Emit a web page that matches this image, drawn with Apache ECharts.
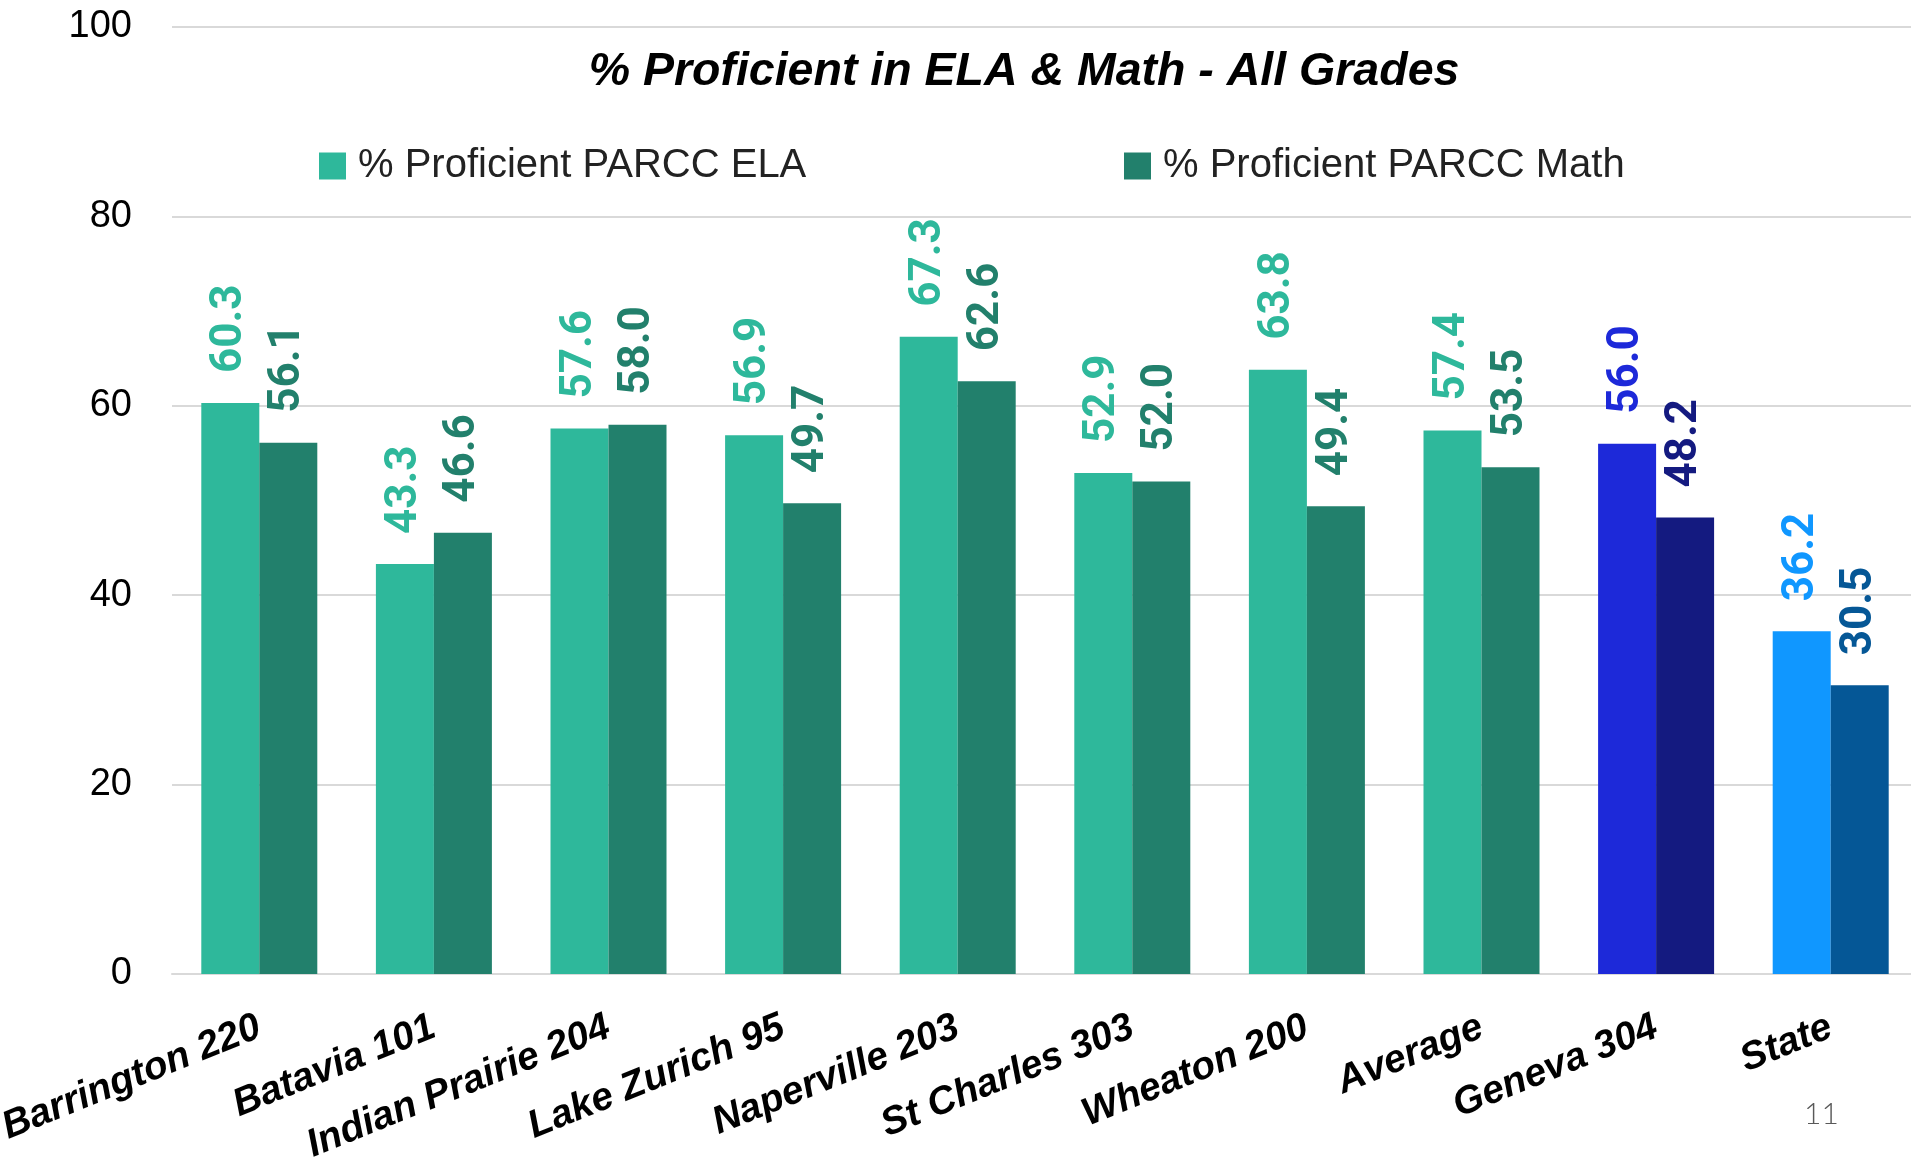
<!DOCTYPE html>
<html>
<head>
<meta charset="utf-8">
<script src="https://cdn.jsdelivr.net/npm/echarts@6/dist/echarts.min.js"></script>
<style>
  html, body { margin: 0; padding: 0; background: #fff; }
  #chart { width: 1911px; height: 1159px; }
</style>
</head>
<body>
<div id="chart"></div>
<script>
// 数据
const categories = ['Barrington 220', 'Batavia 101', 'Indian Prairie 204', 'Lake Zurich 95', 'Naperville 203',
  'St Charles 303', 'Wheaton 200', 'Average', 'Geneva 304', 'State']
const elaValues = [60.3, 43.3, 57.6, 56.9, 67.3, 52.9, 63.8, 57.4, 56.0, 36.2]
const mathValues = [56.1, 46.6, 58.0, 49.7, 62.6, 52.0, 49.4, 53.5, 48.2, 30.5]
const yTicks = [0, 20, 40, 60, 80, 100]

// 颜色 (Geneva / State 单独着色)
const elaColors = ['#2EB89B', '#2EB89B', '#2EB89B', '#2EB89B', '#2EB89B', '#2EB89B', '#2EB89B', '#2EB89B', '#1D29D9', '#1097FF']
const mathColors = ['#22806C', '#22806C', '#22806C', '#22806C', '#22806C', '#22806C', '#22806C', '#22806C', '#141A80', '#055796']

const sans = "'Liberation Sans', Arial, sans-serif"

const toItems = (values, colors) => values.map((v, i) => ({
  value: v,
  itemStyle: { color: colors[i] },
  label: { color: colors[i] }
}))

const barLabel = {
  show: true,
  position: 'top',
  rotate: 90,
  align: 'left',
  verticalAlign: 'middle',
  distance: 30,
  fontFamily: 'Roboto',
  fontWeight: 'bold',
  fontSize: 44,
  formatter: (p) => p.value.toFixed(1)
}

const option = {
  animation: false,
  title: {
    text: '% Proficient in ELA & Math - All Grades',
    left: 1019,
    textAlign: 'center',
    top: 44,
    textStyle: {
      fontFamily: sans,
      fontStyle: 'italic',
      fontWeight: 'bold',
      fontSize: 46.5,
      color: '#000'
    }
  },
  legend: [
    {
      data: ['% Proficient PARCC ELA'],
      left: 314,
      top: 141,
      icon: 'rect',
      itemWidth: 27,
      itemHeight: 27,
      textStyle: { fontFamily: sans, fontSize: 40, color: '#222', padding: [0, 0, 0, 7] }
    },
    {
      data: ['% Proficient PARCC Math'],
      left: 1119,
      top: 141,
      icon: 'rect',
      itemWidth: 27,
      itemHeight: 27,
      textStyle: { fontFamily: sans, fontSize: 40, color: '#222', padding: [0, 0, 0, 7] }
    }
  ],
  grid: {
    left: 172,
    top: 27,
    width: 1746,
    bottom: 185,
    outerBoundsMode: 'none',
    containLabel: false
  },
  xAxis: {
    type: 'category',
    data: categories,
    axisLine: { lineStyle: { color: '#d9d9d9', width: 2 } },
    axisTick: { show: false },
    axisLabel: {
      interval: 0,
      rotate: 22,
      margin: 52,
      fontFamily: sans,
      fontStyle: 'italic',
      fontWeight: 'bold',
      fontSize: 39,
      color: '#000'
    }
  },
  yAxis: {
    type: 'value',
    min: yTicks[0],
    max: yTicks[yTicks.length - 1],
    interval: 20,
    axisLine: { show: false },
    axisTick: { show: false },
    splitLine: { lineStyle: { color: '#d9d9d9', width: 2 } },
    axisLabel: {
      margin: 40,
      fontFamily: sans,
      fontSize: 38,
      color: '#000'
    }
  },
  series: [
    {
      name: '% Proficient PARCC ELA',
      type: 'bar',
      barWidth: 58,
      barGap: '0%',
      itemStyle: { color: '#2EB89B' },
      label: barLabel,
      data: toItems(elaValues, elaColors)
    },
    {
      name: '% Proficient PARCC Math',
      type: 'bar',
      barWidth: 58,
      barGap: '0%',
      itemStyle: { color: '#22806C' },
      label: barLabel,
      data: toItems(mathValues, mathColors)
    }
  ],
  graphic: [
    {
      type: 'text',
      left: 1804,
      top: 1099,
      style: { text: '11', fontFamily: 'Lato', fontWeight: 300, fontSize: 30, fill: '#595959' }
    }
  ]
}

const myChart = echarts.init(document.getElementById('chart'))
option && myChart.setOption(option)
</script>
</body>
</html>
